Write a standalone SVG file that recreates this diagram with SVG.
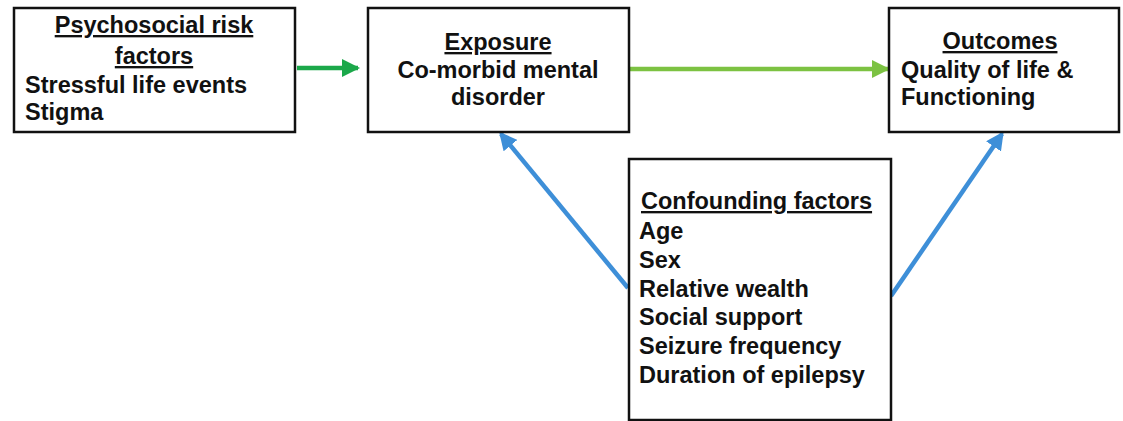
<svg xmlns="http://www.w3.org/2000/svg" width="1123" height="421" viewBox="0 0 1123 421">
<defs>
<style>
.box{fill:#fff;stroke:#111;stroke-width:2.5}
.t{font-family:"Liberation Sans",Arial,sans-serif;font-weight:bold;font-size:23.5px;fill:#111}
.c{text-anchor:middle}
.u{text-decoration:underline}
.edge{fill:none;stroke-width:4.5}
</style>
<marker id="ag1" markerUnits="userSpaceOnUse" markerWidth="18" markerHeight="18" refX="16" refY="9" orient="auto"><path d="M0,0 L18,9 L0,18 Z" fill="#1ba84a"/></marker>
<marker id="ag2" markerUnits="userSpaceOnUse" markerWidth="18" markerHeight="18" refX="16" refY="9" orient="auto"><path d="M0,0 L18,9 L0,18 Z" fill="#7cc242"/></marker>
<marker id="ab" markerUnits="userSpaceOnUse" markerWidth="18" markerHeight="18" refX="15" refY="9" orient="auto"><path d="M0,0 L18,9 L0,18 Z" fill="#3e8fd8"/></marker>
</defs>
<rect width="1123" height="421" fill="#fff"/>
<g id="connectors">
<line class="edge" x1="297" y1="68" x2="358" y2="68" stroke="#1ba84a" marker-end="url(#ag1)"/>
<line class="edge" x1="630" y1="69" x2="888" y2="69" stroke="#7cc242" marker-end="url(#ag2)"/>
<line class="edge" x1="628" y1="288" x2="501" y2="134" stroke="#3e8fd8" marker-end="url(#ab)"/>
<line class="edge" x1="891" y1="296" x2="1002" y2="134" stroke="#3e8fd8" marker-end="url(#ab)"/>
</g>
<g id="psychosocial">
<rect class="box" x="14" y="8" width="281" height="124"/>
<text class="t c u" x="154" y="33">Psychosocial risk</text>
<text class="t c u" x="154" y="64">factors</text>
<text class="t" x="25" y="93">Stressful life events</text>
<text class="t" x="25" y="120">Stigma</text>
</g>
<g id="exposure">
<rect class="box" x="368" y="8" width="261" height="124"/>
<text class="t c u" x="498" y="50">Exposure</text>
<text class="t c" x="498" y="78">Co-morbid mental</text>
<text class="t c" x="498" y="105">disorder</text>
</g>
<g id="outcomes">
<rect class="box" x="889" y="8" width="230" height="124"/>
<text class="t c u" x="1000" y="49">Outcomes</text>
<text class="t" x="901" y="78">Quality of life &amp;</text>
<text class="t" x="901" y="105">Functioning</text>
</g>
<g id="confounding">
<rect class="box" x="629" y="159" width="262" height="261"/>
<text class="t u" x="641" y="209">Confounding factors</text>
<text class="t" x="639" y="239">Age</text>
<text class="t" x="639" y="268">Sex</text>
<text class="t" x="639" y="297">Relative wealth</text>
<text class="t" x="639" y="325">Social support</text>
<text class="t" x="639" y="354">Seizure frequency</text>
<text class="t" x="639" y="383">Duration of epilepsy</text>
</g>
</svg>
